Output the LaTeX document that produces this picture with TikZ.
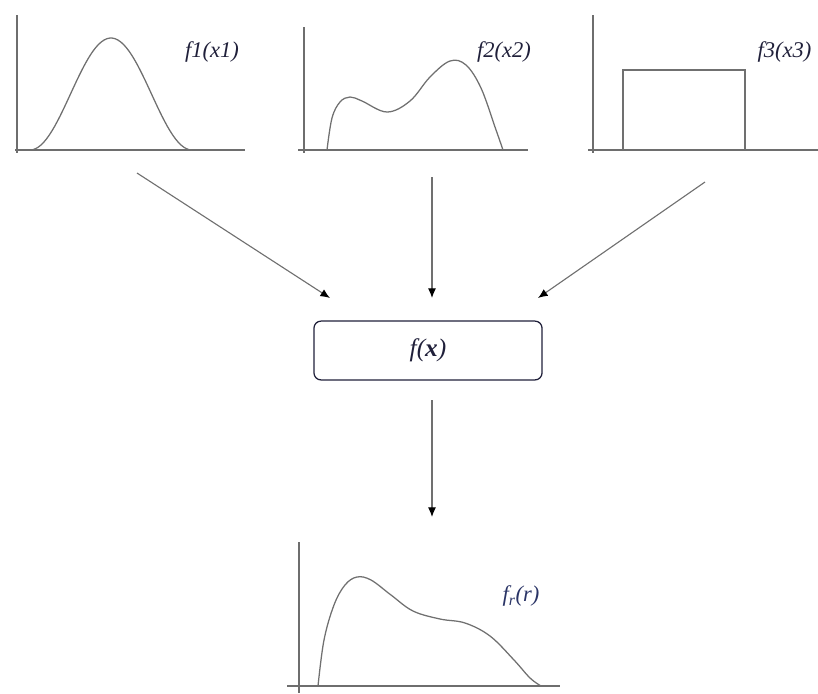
\documentclass[tikz,border=0pt]{standalone}
\usepackage{fontspec}
\setmainfont{Liberation Serif}
\usepackage{tikz}
\usetikzlibrary{arrows.meta,positioning,calc}
\definecolor{axisgray}{HTML}{6E6E6E}
\definecolor{curvegray}{HTML}{707070}
\definecolor{inkblue}{HTML}{20203A}
\definecolor{rblue}{HTML}{2A3466}

\begin{document}
\begin{tikzpicture}[x=0.025cm,y=-0.025cm,
  axis/.style={draw=axisgray,line width=0.8pt},
  curve/.style={draw=curvegray,line width=0.9pt},
  fun/.style={font=\fontsize{16}{18}\selectfont\itshape,color=inkblue,inner sep=1pt},
  fbox/.style={draw=axisgray,rounded corners=5pt,line width=0.9pt,minimum width=5.7cm,minimum height=1.47cm,font=\fontsize{18}{20}\selectfont\itshape,color=inkblue},
  arr/.style={-{Latex[length=2.4mm,width=2mm,color=black]},draw=curvegray,line width=0.8pt}]
\useasboundingbox (0,0) rectangle (818,693);
% panel 1
\draw[axis] (17,15) -- (17,153);
\draw[axis] (15,150) -- (245,150);
\draw[curve] plot[domain=30:192,samples=60] (\x,{150-56*(1-cos(2.2222*(\x-30)))});
\node[fun] (l1) at (212,52) {f1(x1)};
% panel 2
\draw[axis] (304,27) -- (304,153);
\draw[axis] (298,150) -- (528,150);
\draw[curve] plot[smooth,tension=0.6] coordinates {(327,150) (332,118) (340,102) (350,97) (362,101) (387,112) (410,101) (430,77) (450,61) (466,65) (481,88) (495,127) (503,150)};
\node[fun] (l2) at (504,52) {f2(x2)};
% panel 3
\draw[axis] (593,15) -- (593,153);
\draw[axis] (588,150) -- (818,150);
\draw[curve] (623,150) -- (623,70) -- (745,70) -- (745,150);
\node[fun,anchor=west] (l3) at (756,52) {f3(x3)};
% centre box
\node[fbox] (fx) at (428,350.5) {f(\bfseries\itshape x\mdseries)};
\coordinate (s1) at (137,173);
\coordinate (e1) at (330,298);
\coordinate (s2) at (432,177);
\coordinate (e2) at (432,298);
\coordinate (s3) at (705,182);
\coordinate (e3) at (538,298);
\coordinate (s4) at (432,400);
\coordinate (e4) at (432,517);
\draw[arr] (s1) -- (e1);
\draw[arr] (s2) -- (e2);
\draw[arr] (s3) -- (e3);
\draw[arr] (s4) -- (e4);
% result panel
\draw[axis] (299,542) -- (299,693);
\draw[axis] (287,686) -- (560,686);
\draw[curve] plot[smooth,tension=0.6] coordinates {(318,686) (324,640) (334,605) (345,585) (357,577) (371,580) (391,595) (413,611) (440,619) (465,623) (490,636) (514,660) (530,678) (541,686)};
\node[fun,color=rblue] (lr) at (521,596) {f\textsubscript{r}(r)};
\end{tikzpicture}
\end{document}
